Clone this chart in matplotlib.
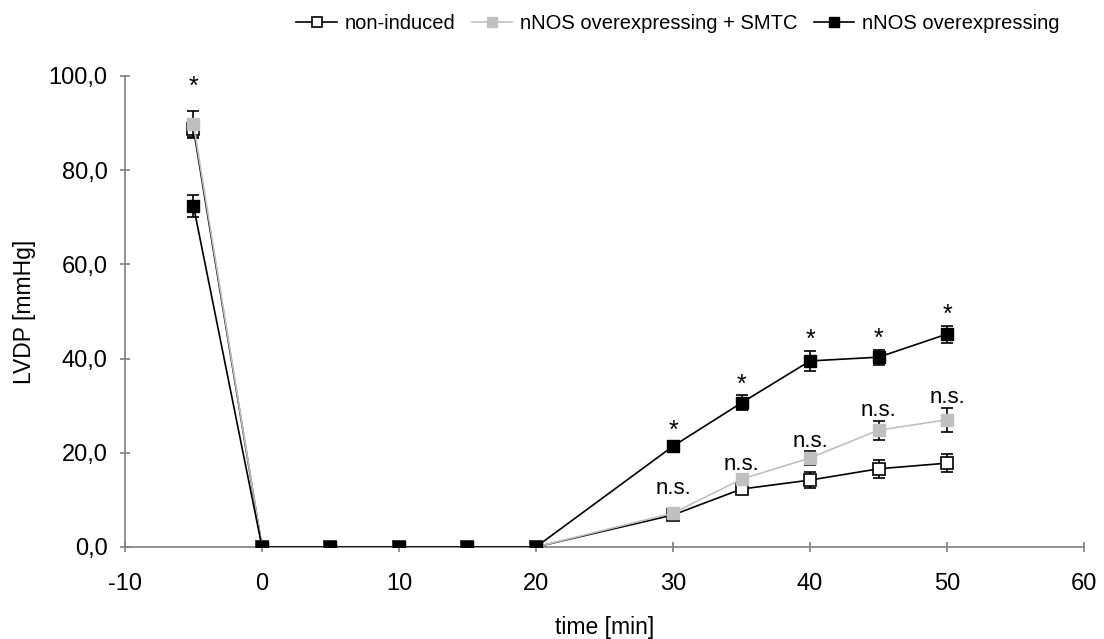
import matplotlib
matplotlib.use("Agg")
import matplotlib.pyplot as plt
from matplotlib.lines import Line2D
from matplotlib.ticker import FuncFormatter

plt.rcParams['font.family'] = ['Liberation Sans', 'DejaVu Sans']
plt.rcParams['axes.unicode_minus'] = False

time = [-5, 0, 5, 10, 15, 20, 30, 35, 40, 45, 50]

non_induced = [88.8, 0, 0, 0, 0, 0, 6.8, 12.3, 14.2, 16.6, 17.8]
non_induced_err = [2.0, 0, 0, 0, 0, 0, 1.0, 1.0, 1.7, 1.9, 1.9]

smtc = [89.8, 0, 0, 0, 0, 0, 7.2, 14.4, 18.9, 24.8, 27.0]
smtc_err = [2.8, 0, 0, 0, 0, 0, 1.0, 1.0, 1.4, 2.0, 2.5]

nnos = [72.4, 0, 0, 0, 0, 0, 21.4, 30.6, 39.5, 40.3, 45.2]
nnos_err = [2.3, 0, 0, 0, 0, 0, 1.0, 1.6, 2.1, 1.6, 1.8]

star_times = [-5, 30, 35, 40, 45, 50]
ns_times = [30, 35, 40, 45, 50]

labels = ["non-induced", "nNOS overexpressing + SMTC", "nNOS overexpressing"]

LIGHT = '#c0c0c0'

fig = plt.figure(figsize=(11.04, 6.39), dpi=100)
ax = fig.add_axes([0.1132, 0.1440, 0.8687, 0.7371])

ms = 8.8
common = dict(capsize=4.5, elinewidth=1.2, capthick=1.2, markersize=ms, linewidth=1.2)

ax.errorbar(time, non_induced, yerr=non_induced_err, color='black', ecolor='black',
            marker='s', markerfacecolor='white', markeredgecolor='black',
            markeredgewidth=1.2, zorder=3, **common)
ax.errorbar(time, smtc, yerr=smtc_err, color=LIGHT, ecolor='black',
            marker='s', markerfacecolor=LIGHT, markeredgecolor=LIGHT,
            zorder=4, **common)
ax.errorbar(time, nnos, yerr=nnos_err, color='black', ecolor='black',
            marker='s', markerfacecolor='black', markeredgecolor='black',
            zorder=5, **common)

# significance marks
for t in star_times:
    i = time.index(t)
    top = max(nnos[i] + nnos_err[i], smtc[i] + smtc_err[i], non_induced[i] + non_induced_err[i])
    gap = 3.5 if t < 0 else 0.8
    ax.text(t, top + gap, "*", ha='center', va='baseline', fontsize=18)
for t in ns_times:
    i = time.index(t)
    gap = 3.0 if t == 30 else 1.0
    ax.text(t, smtc[i] + smtc_err[i] + gap, "n.s.", ha='center', va='baseline', fontsize=16)

ax.set_xlim(-10, 60)
ax.set_ylim(0, 100)
ax.set_xticks(range(-10, 61, 10))
ax.set_yticks(range(0, 101, 20))
ax.yaxis.set_major_formatter(FuncFormatter(lambda v, p: f"{v:.1f}".replace('.', ',')))

for s in ['top', 'right']:
    ax.spines[s].set_visible(False)
for s in ['left', 'bottom']:
    ax.spines[s].set_color('#808080')
    ax.spines[s].set_linewidth(1.2)
ax.tick_params(axis='both', direction='inout', length=7, width=1.2, color='#808080',
               labelsize=17)
ax.tick_params(axis='y', pad=9)
ax.tick_params(axis='x', pad=15)

ax.set_xlabel("time [min]", fontsize=16.5, labelpad=15)
ax.set_ylabel("LVDP [mmHg]", fontsize=16.5, labelpad=9)

handles = [
    Line2D([], [], color='black', lw=1.2, marker='s', markersize=7,
           markerfacecolor='white', markeredgecolor='black', markeredgewidth=1.2),
    Line2D([], [], color=LIGHT, lw=1.2, marker='s', markersize=7,
           markerfacecolor=LIGHT, markeredgecolor=LIGHT),
    Line2D([], [], color='black', lw=1.2, marker='s', markersize=7,
           markerfacecolor='black', markeredgecolor='black'),
]
fig.legend(handles=handles, labels=labels, loc='upper center',
           bbox_to_anchor=(0.614, 1.0), ncol=3, frameon=False, fontsize=14.5,
           handlelength=2.0, handletextpad=0.4, columnspacing=0.8,
           borderaxespad=0.3)

fig.savefig("out.png", dpi=100)
